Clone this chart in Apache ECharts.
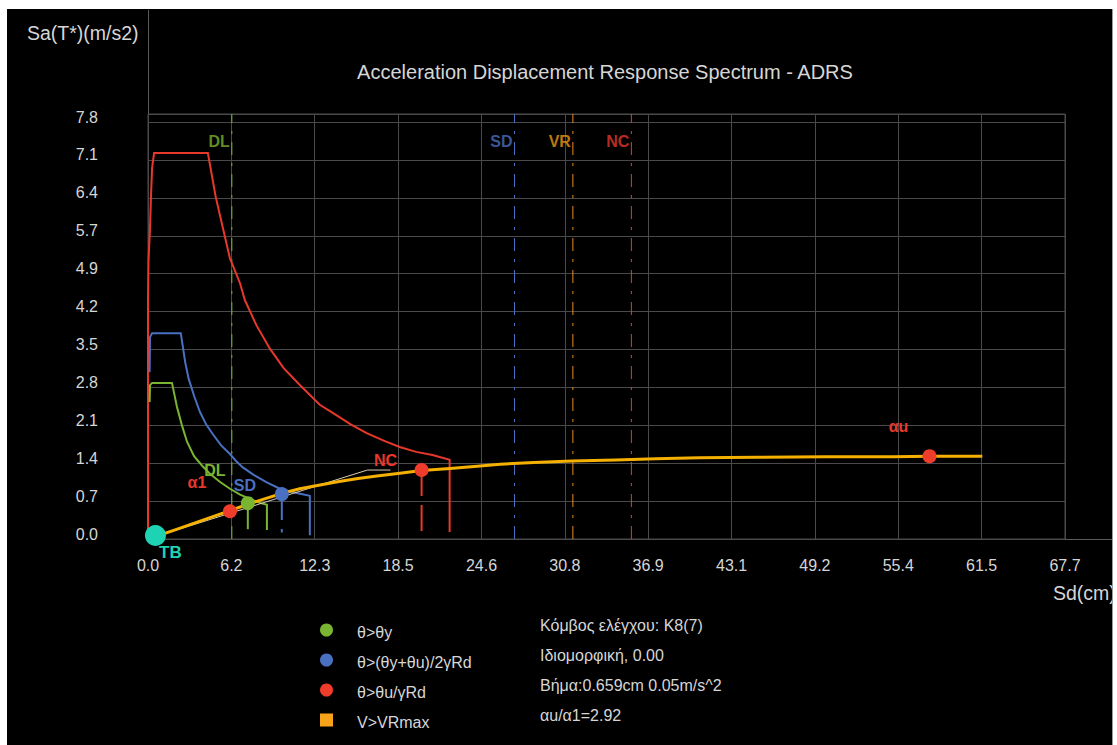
<!DOCTYPE html>
<html>
<head>
<meta charset="utf-8">
<title>ADRS</title>
<script src="https://cdn.jsdelivr.net/npm/echarts@6/dist/echarts.min.js"></script>
<style>
  html, body { margin: 0; padding: 0; background: #ffffff; }
  #frame { position: absolute; left: 7px; top: 9px; width: 1105px; height: 736px;
           background: #000000; border-right: 1px solid #9a9a9a; overflow: hidden; }
  #chart { width: 1105px; height: 736px; }
</style>
</head>
<body>
<div id="frame"><div id="chart"></div></div>
<script>
// ---- axis ticks ----
const xTickLabels = ['0.0', '6.2', '12.3', '18.5', '24.6', '30.8', '36.9', '43.1', '49.2', '55.4', '61.5', '67.7'];
const yTickLabels = ['0.0', '0.7', '1.4', '2.1', '2.8', '3.5', '4.2', '4.9', '5.7', '6.4', '7.1', '7.8'];
const xStep = 6.155;
const yStep = 0.709;
const yTop = 7.95;

// ---- demand spectra [Sd (cm), Sa (m/s2)] ----
const spectrumNC = [[0, 0], [0, 4.47], [0.04, 5.22], [0.15, 5.82], [0.22, 6.40], [0.30, 6.94], [0.45, 7.22],
  [4.42, 7.22], [5.0, 6.40], [5.5, 5.85], [6.05, 5.25], [6.8, 4.78], [7.15, 4.47], [8.0, 4.0], [9.0, 3.56],
  [10.0, 3.2], [11.21, 2.88], [12.68, 2.51], [13.64, 2.36], [15.0, 2.14], [16.15, 1.98], [17.4, 1.84],
  [18.58, 1.72], [19.8, 1.63], [21.0, 1.57], [22.27, 1.48], [22.27, 0.13]];
const spectrumSD = [[0.12, 3.12], [0.15, 3.78], [0.3, 3.85], [2.42, 3.85], [2.6, 3.55], [2.75, 3.3], [3.0, 3.0],
  [3.4, 2.68], [3.83, 2.38], [4.3, 2.14], [4.79, 1.96], [5.4, 1.75], [6.05, 1.59], [6.5, 1.46], [7.0, 1.34],
  [7.8, 1.2], [8.7, 1.07], [9.73, 0.94], [10.8, 0.87], [11.95, 0.81], [11.95, 0.07]];
const spectrumDL = [[0.12, 2.56], [0.15, 2.88], [0.3, 2.92], [1.77, 2.92], [1.95, 2.7], [2.14, 2.47], [2.5, 2.13],
  [2.88, 1.82], [3.4, 1.55], [4.0, 1.37], [4.57, 1.22], [5.3, 1.07], [6.05, 0.94], [6.8, 0.83], [7.52, 0.75],
  [8.2, 0.68], [8.78, 0.64], [8.78, 0.17]];

// ---- capacity curve and its bilinear idealisation ----
const capacity = [[0, 0], [2.0, 0.17], [4.0, 0.35], [6.05, 0.53], [7.37, 0.65], [8.6, 0.75], [9.88, 0.85],
  [11.2, 0.94], [12.5, 1.0], [14.0, 1.07], [15.5, 1.13], [16.9, 1.18], [18.6, 1.23], [20.2, 1.28], [22.3, 1.32],
  [24.3, 1.36], [26.0, 1.40], [28.5, 1.43], [31.3, 1.46], [34.5, 1.48], [37.5, 1.50], [40.7, 1.52], [45.0, 1.53],
  [50.0, 1.54], [55.0, 1.54], [57.7, 1.55], [61.6, 1.55]];
const bilinear = [[0, 0], [16.2, 1.29], [17.9, 1.29]];

// ---- performance levels (vertical limits) ----
const limitNames = ['DL', 'SD', 'VR', 'NC'];
const limitSd = [6.19, 27.06, 31.37, 35.69];

// ---- events on the capacity curve ----
const tbPoint = [0.55, 0.065];
const yieldPoint = [7.37, 0.67];        // θ>θy
const midPoint = [9.88, 0.84];          // θ>(θy+θu)/2γRd
const ncPoint = [20.2, 1.29];           // θ>θu/γRd
const alpha1Point = [6.05, 0.52];
const alphaUPoint = [57.7, 1.55];

// ---- texts ----
const legendNames = ['θ>θy', 'θ>(θy+θu)/2γRd', 'θ>θu/γRd', 'V>VRmax'];
const infoLines = ['Κόμβος ελέγχου: K8(7)', 'Ιδιομορφική, 0.00', 'Βήμα:0.659cm 0.05m/s^2', 'αu/α1=2.92'];

// ---- styling ----
const FONT = '"Liberation Sans", Arial, sans-serif';
const TXT = '#d6d6d6';
const GRID = '#4a4a4a';
const GREEN = '#79b530', BLUE = '#4a70c2', RED = '#e8382b', ORANGE = '#f5b000',
      VRCOL = '#f09a12', CYAN = '#1ed3b3', BEIGE = '#d8ccb0', DOTRED = '#f03c2a';
const limitColors = [GREEN, BLUE, '#ee8a1a', RED];
const limitLabelColors = [GREEN, BLUE, VRCOL, RED];
const LABEL_LEVEL = 7.43;
const LEG_DOT = [GREEN, BLUE, DOTRED, '#f7a21b'];

function tickFmt(labels, step) {
  return function (v) {
    const k = v / step, i = Math.round(k);
    return Math.abs(k - i) < 1e-6 && labels[i] !== undefined ? labels[i] : '';
  };
}

const series = [];

// vertical performance-level lines
limitSd.forEach(function (sd, i) {
  series.push({
    type: 'line', data: [[sd, 0], [sd, yTop]], symbol: 'none', silent: true,
    lineStyle: { color: limitColors[i], width: 1, type: [13, 8, 3, 8] }, z: 2
  });
});
series.push({
  type: 'scatter', symbolSize: 0, silent: true, z: 3,
  data: limitSd.map(function (sd, i) {
    return { value: [sd, LABEL_LEVEL], label: { color: limitLabelColors[i] } };
  }),
  label: {
    show: true, position: 'left', distance: 2, fontFamily: FONT, fontSize: 16, fontWeight: 'bold',
    formatter: function (p) { return limitNames[p.dataIndex]; }
  }
});

function curve(data, color, width) {
  return { type: 'line', data: data, symbol: 'none', silent: true, z: 4,
           lineStyle: { color: color, width: width, join: 'miter' } };
}
series.push(curve(spectrumNC, RED, 2));
series.push(curve(spectrumSD, BLUE, 2));
series.push(curve(spectrumDL, GREEN, 2));
series.push(curve(bilinear, BEIGE, 1));
series.push(curve(capacity, ORANGE, 3));

// dashed drop lines from event points to the axis
function dropLine(pt, color) {
  return { type: 'line', data: [[pt[0], pt[1]], [pt[0], 0.12]], symbol: 'none', silent: true, z: 4,
           lineStyle: { color: color, width: 2, type: [26, 9] } };
}
series.push(dropLine(yieldPoint, GREEN));
series.push(dropLine(midPoint, BLUE));
series.push(dropLine(ncPoint, RED));

function labelled(pt, text, color, offset) {
  return { value: pt, label: { show: true, formatter: text, color: color, offset: offset,
           position: 'inside', fontFamily: FONT, fontSize: 16, fontWeight: 'bold' } };
}
series.push({
  name: legendNames[0], type: 'scatter', symbol: 'circle', symbolSize: 14, z: 6,
  itemStyle: { color: GREEN, opacity: 1 },
  data: [labelled(yieldPoint, 'DL', GREEN, [-33, -33])]
});
series.push({
  name: legendNames[1], type: 'scatter', symbol: 'circle', symbolSize: 14, z: 6,
  itemStyle: { color: BLUE, opacity: 1 },
  data: [labelled(midPoint, 'SD', BLUE, [-37, -9])]
});
series.push({
  name: legendNames[2], type: 'scatter', symbol: 'circle', symbolSize: 14, z: 6,
  itemStyle: { color: DOTRED, opacity: 1 },
  data: [labelled(alpha1Point, 'α1', RED, [-33, -29]),
         labelled(ncPoint, 'NC', RED, [-36, -10]),
         labelled(alphaUPoint, 'αu', RED, [-31, -30])]
});
series.push({
  type: 'scatter', symbol: 'circle', symbolSize: 21, z: 7,
  itemStyle: { color: CYAN, opacity: 1 },
  data: [{ value: tbPoint, label: { show: true, formatter: 'TB', position: 'inside', offset: [15, 17],
           color: CYAN, fontFamily: FONT, fontSize: 17, fontWeight: 'bold' } }]
});

// legend and information block
const graphics = [];
legendNames.forEach(function (name, i) {
  const cy = 621 + i * 30;
  if (i < 3) {
    graphics.push({ type: 'circle', shape: { cx: 319.5, cy: cy, r: 6.5 }, style: { fill: LEG_DOT[i] } });
  } else {
    graphics.push({ type: 'rect', shape: { x: 313, y: cy - 6.5, width: 13, height: 13 }, style: { fill: LEG_DOT[i] } });
  }
  graphics.push({ type: 'text', x: 350, y: cy + 2,
    style: { text: name, fill: TXT, font: '16px ' + FONT, align: 'left', verticalAlign: 'middle' } });
});
infoLines.forEach(function (line, i) {
  graphics.push({ type: 'text', x: 533, y: 616 + i * 30,
    style: { text: line, fill: TXT, font: '16px ' + FONT, align: 'left', verticalAlign: 'middle' } });
});
// titles
graphics.push({ type: 'text', x: 598, y: 63,
  style: { text: 'Acceleration Displacement Response Spectrum - ADRS', fill: TXT, font: '20px ' + FONT,
           align: 'center', verticalAlign: 'middle' } });
graphics.push({ type: 'text', x: 20, y: 24,
  style: { text: 'Sa(T*)(m/s2)', fill: TXT, font: '19.5px ' + FONT, align: 'left', verticalAlign: 'middle' } });
graphics.push({ type: 'text', x: 1046, y: 584,
  style: { text: 'Sd(cm)', fill: TXT, font: '19.5px ' + FONT, align: 'left', verticalAlign: 'middle' } });
// extended axis lines
graphics.push({ type: 'line', shape: { x1: 141.5, y1: 1, x2: 141.5, y2: 531 }, style: { stroke: '#5a5a5a', lineWidth: 1 } });
graphics.push({ type: 'line', shape: { x1: 141, y1: 530.5, x2: 1105, y2: 530.5 }, style: { stroke: '#5a5a5a', lineWidth: 1 } });

const chart = echarts.init(document.getElementById('chart'), null, { renderer: 'svg' });
chart.setOption({
  backgroundColor: '#000000',
  animation: false,
  grid: { left: 141, top: 105, width: 917, height: 425, show: true, borderColor: GRID, borderWidth: 1,
          backgroundColor: 'transparent' },
  xAxis: {
    type: 'value', min: 0, max: xStep * 11, interval: xStep,
    axisLine: { show: false }, axisTick: { show: false },
    splitLine: { show: true, lineStyle: { color: GRID, width: 1 } },
    axisLabel: { color: TXT, fontFamily: FONT, fontSize: 16, margin: 18, formatter: tickFmt(xTickLabels, xStep) }
  },
  yAxis: {
    type: 'value', min: 0, max: yTop, interval: yStep,
    axisLine: { show: false }, axisTick: { show: false },
    splitLine: { show: true, lineStyle: { color: GRID, width: 1 } },
    axisLabel: { color: TXT, fontFamily: FONT, fontSize: 16, margin: 50, verticalAlign: 'bottom', lineHeight: 10,
                 formatter: tickFmt(yTickLabels, yStep) }
  },
  graphic: graphics,
  series: series
});
</script>
</body>
</html>
